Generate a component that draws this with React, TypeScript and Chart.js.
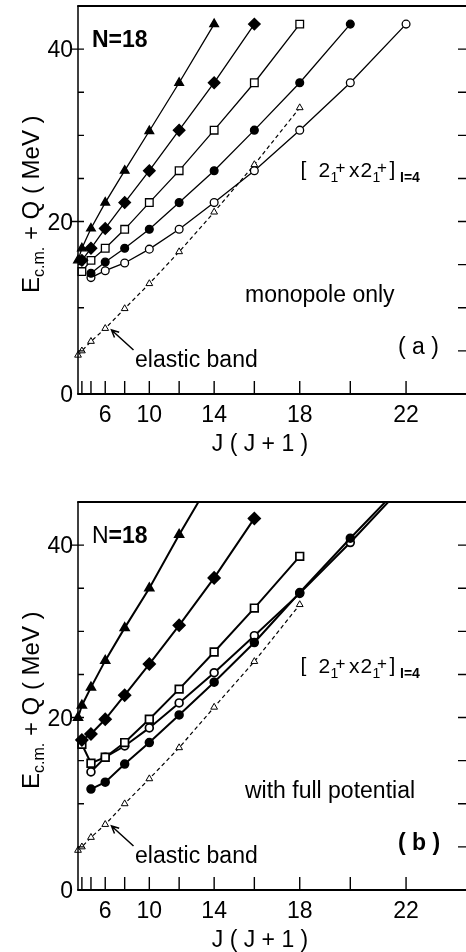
import { useEffect, useRef } from "react";
import { Chart, registerables } from "chart.js";

Chart.register(...registerables);

const FONT = '"Liberation Sans", Arial, Helvetica, sans-serif';

// Bottom-axis ticks sit at J(J+1); only some spins carry a label.
const tickSpins = [2, 4, 6, 8, 10, 12, 14, 16, 18, 20, 22];
const labelledSpins = [6, 10, 14, 18, 22];
const energyLabels = [0, 20, 40];
const energyMinorTicks = [5, 10, 15, 25, 30, 35];
const energyRightTicks = [5, 10, 15, 20, 25, 30, 35, 40];

// (a) monopole only
const aTriangleJ = [0, 2, 4, 6, 8, 10, 12, 14];
const aTriangleE = [15.5, 16.9, 19.2, 22.2, 25.9, 30.5, 36.1, 42.9];
const aDiamondJ = [2, 4, 6, 8, 10, 12, 14, 16];
const aDiamondE = [15.5, 16.9, 19.2, 22.2, 25.9, 30.6, 36.1, 42.9];
const aSquareJ = [2, 4, 6, 8, 10, 12, 14, 16, 18];
const aSquareE = [14.2, 15.5, 16.9, 19.1, 22.2, 25.9, 30.6, 36.1, 42.9];
const aDotJ = [4, 6, 8, 10, 12, 14, 16, 18, 20];
const aDotE = [14.0, 15.3, 16.9, 19.1, 22.2, 25.9, 30.6, 36.1, 42.9];
const aRingJ = [4, 6, 8, 10, 12, 14, 16, 18, 20, 22];
const aRingE = [13.5, 14.3, 15.2, 16.8, 19.1, 22.2, 25.9, 30.6, 36.1, 42.9];
const aElasticJ = [0, 2, 4, 6, 8, 10, 12, 14, 16, 18];
const aElasticE = [4.5, 5.0, 6.1, 7.6, 9.9, 12.8, 16.5, 21.1, 26.6, 33.2];

// (b) with full potential
const bTriangleJ = [0, 2, 4, 6, 8, 10, 12, 14];
const bTriangleE = [20.0, 21.4, 23.5, 26.6, 30.4, 35.0, 41.2, 48.1];
const bDiamondJ = [2, 4, 6, 8, 10, 12, 14, 16];
const bDiamondE = [17.4, 18.1, 19.8, 22.6, 26.2, 30.7, 36.2, 43.1];
const bSquareJ = [2, 4, 6, 8, 10, 12, 14, 16, 18];
const bSquareE = [16.9, 14.7, 15.4, 17.1, 19.8, 23.3, 27.6, 32.7, 38.7];
const bDotJ = [4, 6, 8, 10, 12, 14, 16, 18, 20, 22];
const bDotE = [11.7, 12.5, 14.6, 17.1, 20.3, 24.1, 28.7, 34.5, 40.8, 47.5];
const bRingJ = [4, 6, 8, 10, 12, 14, 16, 18, 20, 22];
const bRingE = [13.7, 15.4, 16.7, 18.8, 21.7, 25.2, 29.5, 34.4, 40.3, 47.2];
const bElasticJ = [0, 2, 4, 6, 8, 10, 12, 14, 16, 18];
const bElasticE = [4.6, 5.0, 6.1, 7.6, 10.0, 12.9, 16.5, 21.2, 26.5, 33.1];

type Marker = { shape: string; radius: number; fill: string; dashed?: boolean; thin?: boolean };

const solidTriangle: Marker = { shape: "triangle", radius: 5, fill: "#000" };
const solidDiamond: Marker = { shape: "rectRot", radius: 5.8, fill: "#000" };
const openSquare: Marker = { shape: "rect", radius: 5.4, fill: "#fff" };
const solidDot: Marker = { shape: "circle", radius: 3.9, fill: "#000" };
const openRing: Marker = { shape: "circle", radius: 3.9, fill: "#fff" };
const openTriangle: Marker = { shape: "triangle", radius: 3.9, fill: "#fff", dashed: true, thin: true };

type Band = { j: number[]; e: number[]; marker: Marker };

type PanelConfig = {
  bands: Band[];
  lineWidth: number;
  caption: string;
  tag: string;
  tagBold: boolean;
  nBold: boolean;
};

const panelA: PanelConfig = {
  bands: [
    { j: aTriangleJ, e: aTriangleE, marker: solidTriangle },
    { j: aDiamondJ, e: aDiamondE, marker: solidDiamond },
    { j: aSquareJ, e: aSquareE, marker: openSquare },
    { j: aDotJ, e: aDotE, marker: solidDot },
    { j: aRingJ, e: aRingE, marker: openRing },
    { j: aElasticJ, e: aElasticE, marker: openTriangle },
  ],
  lineWidth: 1.3,
  caption: "monopole only",
  tag: "( a )",
  tagBold: false,
  nBold: true,
};

const panelB: PanelConfig = {
  bands: [
    { j: bTriangleJ, e: bTriangleE, marker: solidTriangle },
    { j: bDiamondJ, e: bDiamondE, marker: solidDiamond },
    { j: bSquareJ, e: bSquareE, marker: openSquare },
    { j: bDotJ, e: bDotE, marker: solidDot },
    { j: bRingJ, e: bRingE, marker: openRing },
    { j: bElasticJ, e: bElasticE, marker: openTriangle },
  ],
  lineWidth: 2,
  caption: "with full potential",
  tag: "( b )",
  tagBold: true,
  nBold: false,
};

const CANVAS_W = 470;
const CANVAS_H = 476;

function text(ctx: CanvasRenderingContext2D, s: string, x: number, y: number, font: string) {
  ctx.font = `${font} ${FONT}`;
  ctx.fillText(s, x, y);
  return ctx.measureText(s).width;
}

const framePlugin = {
  id: "panelFrame",
  afterDatasetsDraw(chart: any, _args: any, opts: any) {
    const cfg: PanelConfig = opts.cfg;
    const { ctx, chartArea: a } = chart;
    const xs = chart.scales.x;
    const ys = chart.scales.y;
    ctx.save();
    ctx.strokeStyle = "#000";
    ctx.fillStyle = "#000";
    ctx.lineCap = "butt";

    // box
    ctx.lineWidth = 1.8;
    ctx.beginPath();
    ctx.moveTo(a.left - 0.8, a.top);
    ctx.lineTo(a.right, a.top);
    ctx.moveTo(a.left - 0.8, a.bottom);
    ctx.lineTo(a.right, a.bottom);
    ctx.stroke();
    ctx.lineWidth = 1.5;
    ctx.beginPath();
    ctx.moveTo(a.left, a.top);
    ctx.lineTo(a.left, a.bottom);
    ctx.moveTo(a.right, a.top);
    ctx.lineTo(a.right, a.bottom);
    ctx.stroke();

    // ticks
    ctx.lineWidth = 1.4;
    ctx.beginPath();
    for (const j of tickSpins) {
      const px = xs.getPixelForValue(j * (j + 1));
      ctx.moveTo(px, a.bottom);
      ctx.lineTo(px, a.bottom - 13);
    }
    for (const v of energyMinorTicks) {
      const py = ys.getPixelForValue(v);
      ctx.moveTo(a.left, py);
      ctx.lineTo(a.left + 6, py);
    }
    for (const v of energyLabels) {
      if (v === 0) continue;
      const py = ys.getPixelForValue(v);
      ctx.moveTo(a.left - 6, py);
      ctx.lineTo(a.left + 6, py);
    }
    for (const v of energyRightTicks) {
      const py = ys.getPixelForValue(v);
      ctx.moveTo(a.right, py);
      ctx.lineTo(a.right - 9, py);
    }
    ctx.stroke();

    // tick labels
    ctx.textBaseline = "alphabetic";
    ctx.textAlign = "right";
    for (const v of energyLabels) {
      text(ctx, String(v), a.left - 5, ys.getPixelForValue(v) + 8, "23px");
    }
    ctx.textAlign = "center";
    for (const j of labelledSpins) {
      text(ctx, String(j), xs.getPixelForValue(j * (j + 1)), a.bottom + 28, "23px");
    }
    text(ctx, "J ( J + 1 )", 260, a.bottom + 57, "23px");

    // vertical axis title with subscript
    ctx.save();
    ctx.translate(38.5, 293);
    ctx.rotate(-Math.PI / 2);
    ctx.textAlign = "left";
    let u = 0;
    u += text(ctx, "E", u, 0, "24px");
    u += text(ctx, "c.m.", u, 5, "16px");
    text(ctx, " + Q ( MeV )", u, 0, "24px");
    ctx.restore();

    // annotations
    ctx.textAlign = "left";
    if (cfg.nBold) {
      text(ctx, "N=18", 92, 47, "bold 23px");
    } else {
      const w = text(ctx, "N", 92, 47, "23px");
      text(ctx, "=18", 92 + w, 47, "bold 23px");
    }

    text(ctx, "[", 300.5, 176, "21px");
    text(ctx, "2", 318.5, 177, "21px");
    text(ctx, "1", 330.5, 182, "14px");
    text(ctx, "+", 335.5, 173, "17px");
    text(ctx, "x", 349, 177, "21px");
    text(ctx, "2", 360.5, 177, "21px");
    text(ctx, "1", 372.5, 182, "14px");
    text(ctx, "+", 377, 173, "17px");
    text(ctx, "]", 389.5, 176, "21px");
    text(ctx, "I=4", 400, 182, "bold 14px");

    text(ctx, cfg.caption, 245, 301.5, "23px");
    text(ctx, cfg.tag, 398, 354, cfg.tagBold ? "bold 23px" : "23px");
    text(ctx, "elastic band", 135, 366.5, "23px");

    // arrow pointing at the elastic band
    const tipX = 111.5;
    const tipY = 330;
    const tailX = 133.5;
    const tailY = 350;
    const ang = Math.atan2(tipY - tailY, tipX - tailX);
    ctx.lineWidth = 1.5;
    ctx.beginPath();
    ctx.moveTo(tailX, tailY);
    ctx.lineTo(tipX, tipY);
    ctx.moveTo(tipX + 8 * Math.cos(ang + Math.PI - 0.45), tipY + 8 * Math.sin(ang + Math.PI - 0.45));
    ctx.lineTo(tipX, tipY);
    ctx.lineTo(tipX + 8 * Math.cos(ang + Math.PI + 0.45), tipY + 8 * Math.sin(ang + Math.PI + 0.45));
    ctx.stroke();

    ctx.restore();
  },
};

function buildChart(canvas: HTMLCanvasElement, cfg: PanelConfig) {
  const datasets = cfg.bands.map((b) => ({
    data: b.j.map((j, i) => ({ x: j * (j + 1), y: b.e[i] })),
    showLine: true,
    borderColor: "#000",
    borderWidth: b.marker.thin ? 1.2 : cfg.lineWidth,
    borderDash: b.marker.dashed ? [4, 3] : [],
    pointStyle: b.marker.shape,
    pointRadius: b.marker.radius,
    pointBackgroundColor: b.marker.fill,
    pointBorderColor: "#000",
    pointBorderWidth: b.marker.thin ? 1 : Math.max(1.3, cfg.lineWidth - 0.3),
    tension: 0,
    clip: { left: 12, top: 0, right: 0, bottom: 12 },
  }));

  return new Chart(canvas, {
    type: "scatter",
    data: { datasets },
    options: {
      responsive: false,
      animation: false,
      devicePixelRatio: 1,
      events: [],
      layout: { autoPadding: false, padding: { left: 78, right: 3, top: 6, bottom: 82 } },
      scales: {
        x: { type: "linear", min: 0, max: 600, display: false },
        y: { type: "linear", min: 0, max: 45, display: false },
      },
      plugins: {
        legend: { display: false },
        tooltip: { enabled: false },
        panelFrame: { cfg },
      } as any,
    },
    plugins: [framePlugin],
  } as any);
}

function Panel({ cfg, top }: { cfg: PanelConfig; top: number }) {
  const ref = useRef<HTMLCanvasElement | null>(null);
  useEffect(() => {
    if (!ref.current) return;
    const chart = buildChart(ref.current, cfg);
    return () => chart.destroy();
  }, [cfg]);
  return (
    <div style={{ position: "absolute", left: 0, top, width: CANVAS_W, height: CANVAS_H }}>
      <canvas
        ref={ref}
        width={CANVAS_W}
        height={CANVAS_H}
        style={{ width: CANVAS_W, height: CANVAS_H, display: "block" }}
      />
    </div>
  );
}

export default function App() {
  return (
    <div
      style={{
        position: "absolute",
        left: 0,
        top: 0,
        width: 466,
        height: 952,
        overflow: "hidden",
        background: "#fff",
      }}
    >
      <Panel cfg={panelA} top={0} />
      <Panel cfg={panelB} top={496} />
    </div>
  );
}
